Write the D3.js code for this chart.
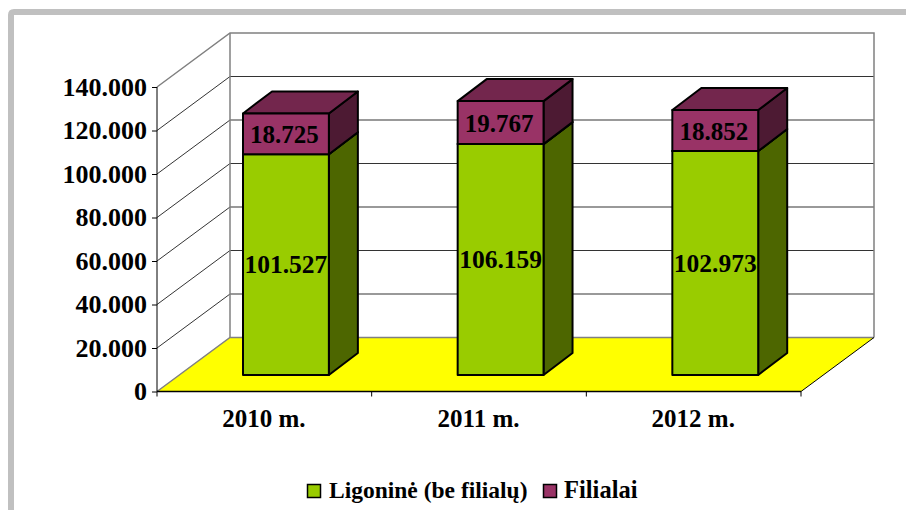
<!DOCTYPE html>
<html><head><meta charset="utf-8">
<script src="https://cdnjs.cloudflare.com/ajax/libs/d3/7.8.5/d3.min.js"></script>
<style>html,body{margin:0;padding:0;background:#fff}svg{display:block}
text{font-family:"Liberation Serif",serif;font-weight:bold;fill:#000}</style></head>
<body><svg id="c" width="906" height="510"></svg>
<script>
const categories=["2010 m.","2011 m.","2012 m."];
const ligonine=[101527,106159,102973];
const filialai=[18725,19767,18852];
const ticks=[0,20000,40000,60000,80000,100000,120000,140000];
const tickLabels=["0","20.000","40.000","60.000","80.000","100.000","120.000","140.000"];
const seriesNames=["Ligoninė (be filialų)","Filialai"];
const colors={lig:"#99cc00",ligSide:"#4d6600",ligTop:"#738f00",fil:"#993366",filSide:"#4d1a33",filTop:"#73264d"};

const svg=d3.select("#c");
const x=d3.scaleBand().domain(categories).range([156.6,800.6]).paddingInner(0.6).paddingOuter(0.3);
const y=d3.scaleLinear().domain([0,140000]).range([391.5,87]);
const wall={dx:73,dy:-54}, barOff={dx:22,dy:-16.5}, barD={dx:29,dy:-22};
const fmt=v=>tickLabels[ticks.indexOf(v)];
const L=d3.line();

// frame
svg.append("path").attr("d","M11,510V15Q11,12 14,12H906").attr("fill","none").attr("stroke","#c0c0c0").attr("stroke-width",6);

// floor
const X0=157,X1=801,Y0=y(0);
svg.append("path").attr("d",L([[X0,Y0],[X0+wall.dx,Y0+wall.dy],[X1+wall.dx,Y0+wall.dy],[X1,Y0]])+"Z").attr("fill","#ffff00");
// gridlines
ticks.slice(1,-1).forEach(t=>{
  svg.append("path").attr("d",L([[X0,y(t)],[X0+wall.dx,y(t)+wall.dy],[X1+wall.dx,y(t)+wall.dy]])).attr("fill","none").attr("stroke","#000").attr("stroke-width",1).attr("stroke-opacity",.8);
});
// walls outline
const yT=y(140000);
const wallLine=(pts,c,w)=>svg.append("path").attr("d",L(pts)).attr("fill","none").attr("stroke",c).attr("stroke-width",w);
wallLine([[X0,Y0],[X0+wall.dx,Y0+wall.dy],[X1+wall.dx,Y0+wall.dy]],"#808080",1.5);
wallLine([[X0,yT],[X0+wall.dx,yT+wall.dy],[X1+wall.dx,yT+wall.dy],[X1+wall.dx,Y0+wall.dy]],"#808080",1.5);
wallLine([[X0+wall.dx,yT+wall.dy],[X0+wall.dx,Y0+wall.dy]],"#808080",1.5);
wallLine([[X1+wall.dx,Y0+wall.dy],[X1,Y0]],"#000",1);

// axes
const yAxis=d3.axisLeft(y).tickValues(ticks).tickFormat(fmt).tickSize(5).tickPadding(5);
const gy=svg.append("g").attr("transform",`translate(${X0},0)`).call(yAxis);
const xTickScale=d3.scalePoint().domain([0,1,2,3]).range([X0,X1]);
const gx=svg.append("g").attr("transform",`translate(0,${Y0})`);
gx.append("path").attr("d",L([[X0,0],[X1,0]])).attr("stroke","#000").attr("stroke-width",1.5);
[0,1,2,3].forEach(i=>gx.append("path").attr("d",L([[xTickScale(i),0],[xTickScale(i),5]])).attr("stroke","#000"));
gy.selectAll("path,line").attr("stroke","#000");
gy.selectAll("text").attr("fill","#000").style("font-family","Liberation Serif").style("font-weight","bold").style("font-size","26px");
gy.select(".domain").attr("d",`M0,${yT}V${Y0}`);
categories.forEach(c=>{
  svg.append("text").attr("x",x(c)+x.bandwidth()/2).attr("y",427).attr("text-anchor","middle").attr("font-size",25).text(c);
});

// bars
function box(xa,w,yb,yt,front,side,top){
  const g=svg.append("g").attr("stroke","#000").attr("stroke-width",2).attr("stroke-linejoin","round");
  const xb=xa+w,d=barD;
  g.append("path").attr("d",L([[xb,yb],[xb+d.dx,yb+d.dy],[xb+d.dx,yt+d.dy],[xb,yt]])+"Z").attr("fill",side);
  g.append("path").attr("d",L([[xa,yt],[xa+d.dx,yt+d.dy],[xb+d.dx,yt+d.dy],[xb,yt]])+"Z").attr("fill",top);
  g.append("path").attr("d",L([[xa,yb],[xa,yt],[xb,yt],[xb,yb]])+"Z").attr("fill",front);
}
categories.forEach((c,i)=>{
  const xa=x(c)+barOff.dx, w=x.bandwidth(), off=barOff.dy;
  const y1=y(ligonine[i])+off, y2=y(ligonine[i]+filialai[i])+off, yb=y(0)+off;
  box(xa,w,yb,y1,colors.lig,colors.ligSide,colors.ligTop);
  box(xa,w,y1,y2,colors.fil,colors.filSide,colors.filTop);
  svg.append("text").attr("x",xa+w/2).attr("y",(yb+y1)/2+8.5).attr("text-anchor","middle").attr("font-size",25.5).text(ligonine[i].toLocaleString("de-DE"));
  svg.append("text").attr("x",xa+w/2-1.5).attr("y",(y1+y2)/2+9.5).attr("text-anchor","middle").attr("font-size",25).text(filialai[i].toLocaleString("de-DE"));
});

// legend
const lg=svg.append("g");
lg.append("rect").attr("x",307.5).attr("y",484.5).attr("width",13).attr("height",13).attr("fill",colors.lig).attr("stroke","#000").attr("stroke-width",1.5);
lg.append("text").attr("x",329).attr("y",498).attr("font-size",23.5).text(seriesNames[0]);
lg.append("rect").attr("x",543.5).attr("y",484.5).attr("width",13).attr("height",13).attr("fill",colors.fil).attr("stroke","#000").attr("stroke-width",1.5);
lg.append("text").attr("x",564).attr("y",498).attr("font-size",24.5).text(seriesNames[1]);
</script></body></html>
